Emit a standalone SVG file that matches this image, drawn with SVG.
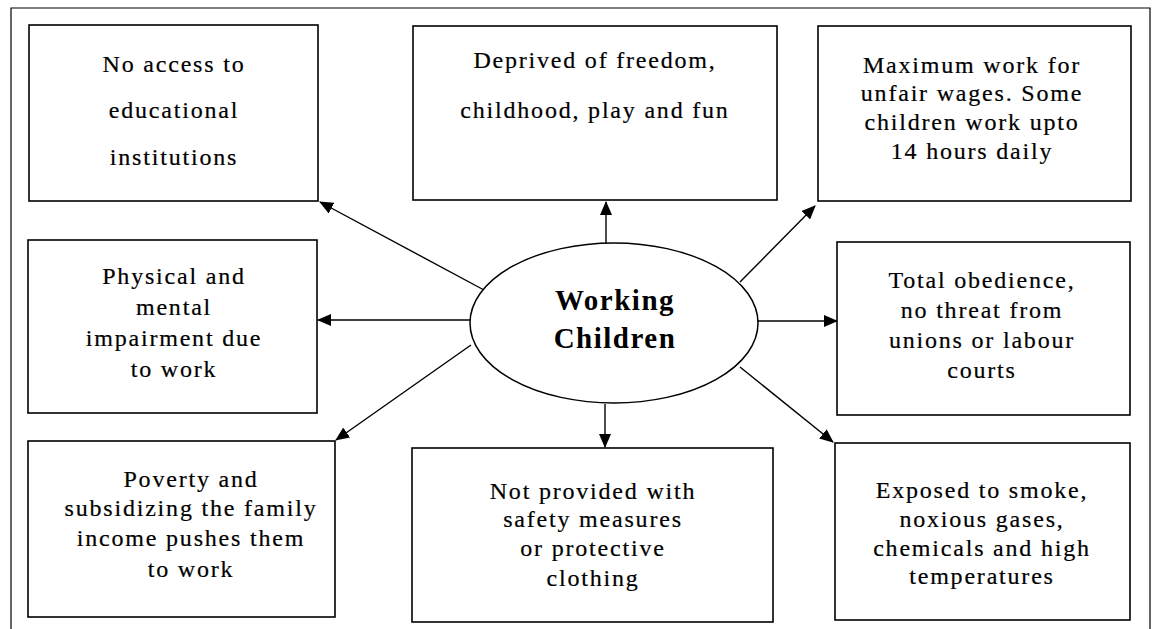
<svg xmlns="http://www.w3.org/2000/svg" width="1154" height="629" viewBox="0 0 1154 629">
<style>
.frame{fill:none;stroke:#000;stroke-width:1.2}
.box{fill:#fff;stroke:#000;stroke-width:1.6}
.t{font-family:"Liberation Serif","Times New Roman",serif;font-size:24px;letter-spacing:1.8px;text-anchor:middle;fill:#000;stroke:#000;stroke-width:0.2}
.c{font-family:"Liberation Serif","Times New Roman",serif;font-size:29px;font-weight:bold;letter-spacing:1.5px;text-anchor:middle;fill:#000}
.ln{stroke:#000;stroke-width:1.4;fill:none;marker-end:url(#ah)}
</style>
<defs>
<marker id="ah" markerWidth="14" markerHeight="12" refX="13" refY="6" orient="auto" markerUnits="userSpaceOnUse">
<path d="M0,0 L14,6 L0,12 Z" fill="#000"/>
</marker>
</defs>
<rect width="1154" height="629" fill="#fff"/>
<path class="frame" d="M11,629 L11,8 L1150,8 L1150,629"/>

<g id="connectors">
<line class="ln" x1="484" y1="290" x2="320" y2="202"/>
<line class="ln" x1="606" y1="243" x2="606" y2="202"/>
<line class="ln" x1="740" y1="282" x2="815" y2="206"/>
<line class="ln" x1="470" y1="320" x2="318" y2="320"/>
<line class="ln" x1="758" y1="321" x2="837" y2="321"/>
<line class="ln" x1="471" y1="345" x2="336" y2="440"/>
<line class="ln" x1="605" y1="404" x2="605" y2="447"/>
<line class="ln" x1="740" y1="367" x2="833" y2="442"/>
</g>

<g id="center">
<ellipse cx="614" cy="323" rx="144" ry="80" fill="#fff" stroke="#000" stroke-width="1.5"/>
<text class="c" x="615" y="310">Working</text>
<text class="c" x="615" y="348">Children</text>
</g>

<g id="n1">
<rect class="box" x="29" y="25" width="289" height="176"/>
<text class="t" x="174" y="72">No access to</text>
<text class="t" x="174" y="118">educational</text>
<text class="t" x="174" y="165">institutions</text>
</g>

<g id="n2">
<rect class="box" x="413" y="26" width="364" height="174"/>
<text class="t" x="595" y="68">Deprived of freedom,</text>
<text class="t" x="595" y="118">childhood, play and fun</text>
</g>

<g id="n3">
<rect class="box" x="818" y="26" width="313" height="175"/>
<text class="t" x="972" y="73">Maximum work for</text>
<text class="t" x="972" y="101">unfair wages. Some</text>
<text class="t" x="972" y="130">children work upto</text>
<text class="t" x="972" y="159">14 hours daily</text>
</g>

<g id="n4">
<rect class="box" x="28" y="240" width="289" height="173"/>
<text class="t" x="174" y="284">Physical and</text>
<text class="t" x="174" y="315">mental</text>
<text class="t" x="174" y="346">impairment due</text>
<text class="t" x="174" y="377">to work</text>
</g>

<g id="n5">
<rect class="box" x="837" y="242" width="293" height="173"/>
<text class="t" x="982" y="288">Total obedience,</text>
<text class="t" x="982" y="318">no threat from</text>
<text class="t" x="982" y="348">unions or labour</text>
<text class="t" x="982" y="378">courts</text>
</g>

<g id="n6">
<rect class="box" x="28" y="441" width="307" height="176"/>
<text class="t" x="191" y="487">Poverty and</text>
<text class="t" x="191" y="516">subsidizing the family</text>
<text class="t" x="191" y="546">income pushes them</text>
<text class="t" x="191" y="577">to work</text>
</g>

<g id="n7">
<rect class="box" x="412" y="448" width="361" height="174"/>
<text class="t" x="593" y="499">Not provided with</text>
<text class="t" x="593" y="527">safety measures</text>
<text class="t" x="593" y="556">or protective</text>
<text class="t" x="593" y="586">clothing</text>
</g>

<g id="n8">
<rect class="box" x="835" y="443" width="295" height="177"/>
<text class="t" x="982" y="498">Exposed to smoke,</text>
<text class="t" x="982" y="527">noxious gases,</text>
<text class="t" x="982" y="556">chemicals and high</text>
<text class="t" x="982" y="584">temperatures</text>
</g>
</svg>
